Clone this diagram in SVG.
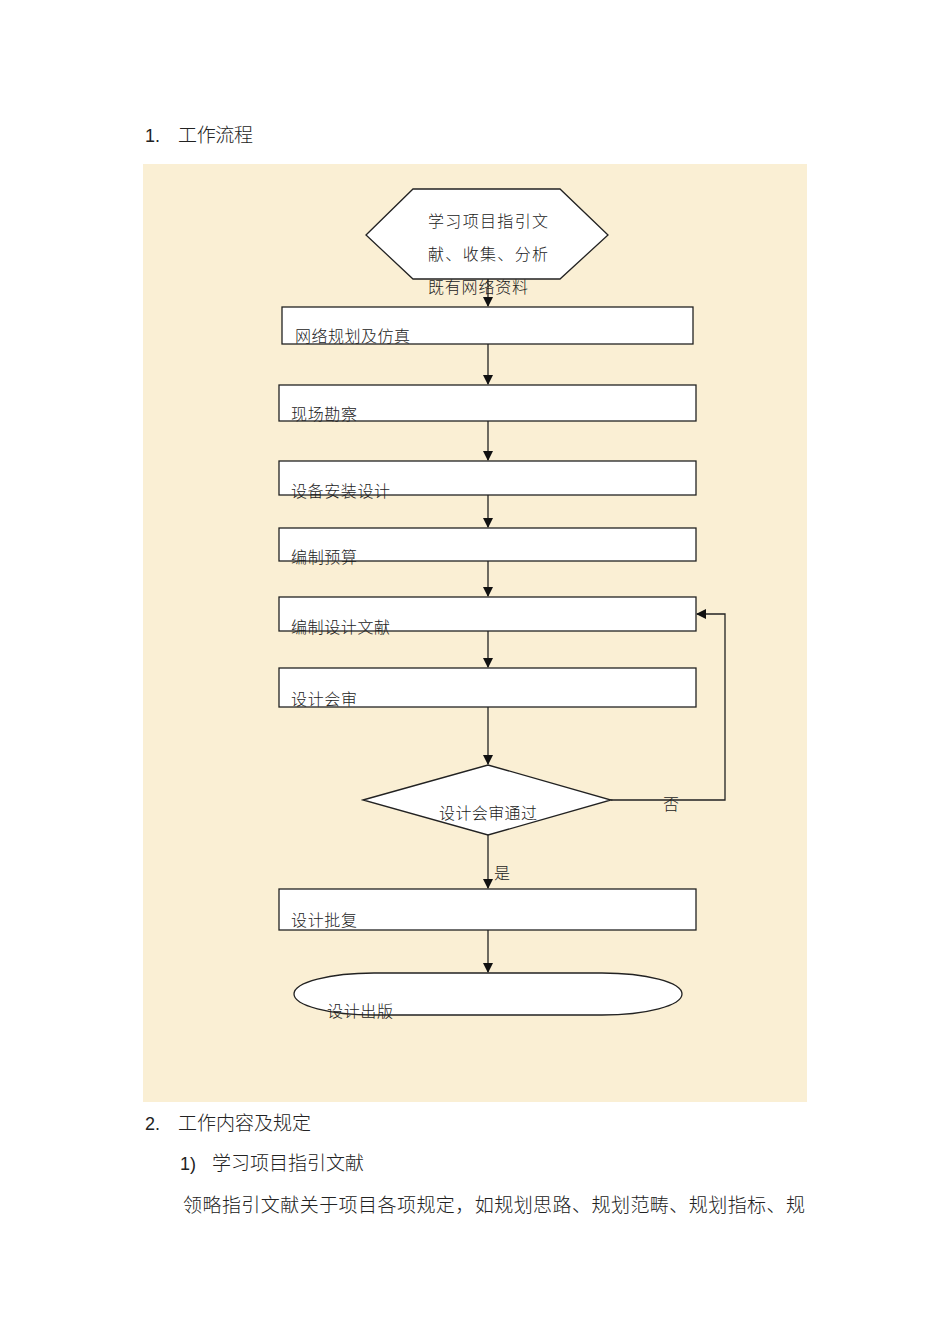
<svg xmlns="http://www.w3.org/2000/svg" width="950" height="1344" viewBox="0 0 950 1344">
<style>
.doc{font-family:"Liberation Sans","Noto Sans CJK SC",sans-serif;fill:#222;font-weight:300}
.t{font-family:"Noto Sans CJK SC",sans-serif;font-size:16px;fill:#222;font-weight:300}
.box{fill:#fff;stroke:#222;stroke-width:1.3}
.ln{fill:none;stroke:#222;stroke-width:1.3}
</style>
<defs>
<marker id="ah" markerWidth="10" markerHeight="10" refX="9" refY="5" orient="auto" markerUnits="userSpaceOnUse">
<path d="M0,0 L10,5 L0,10 Z" fill="#111"/>
</marker>
</defs>
<rect width="950" height="1344" fill="#fff"/>
<text class="doc" x="145" y="142" font-size="18" font-weight="400">1.</text>
<text class="doc" x="178" y="142" font-size="19" textLength="75">工作流程</text>
<rect x="143" y="164" width="664" height="938" fill="#faefd4"/>
<g id="connectors">
<line class="ln" x1="488" y1="279" x2="488" y2="306" marker-end="url(#ah)"/>
<line class="ln" x1="488" y1="344" x2="488" y2="384" marker-end="url(#ah)"/>
<line class="ln" x1="488" y1="421" x2="488" y2="460" marker-end="url(#ah)"/>
<line class="ln" x1="488" y1="495" x2="488" y2="527" marker-end="url(#ah)"/>
<line class="ln" x1="488" y1="561" x2="488" y2="596" marker-end="url(#ah)"/>
<line class="ln" x1="488" y1="631" x2="488" y2="667" marker-end="url(#ah)"/>
<line class="ln" x1="488" y1="707" x2="488" y2="764" marker-end="url(#ah)"/>
<polyline class="ln" points="611,800 725,800 725,614 697,614" marker-end="url(#ah)"/>
<line class="ln" x1="488" y1="835" x2="488" y2="888" marker-end="url(#ah)"/>
<line class="ln" x1="488" y1="930" x2="488" y2="972" marker-end="url(#ah)"/>
<text class="t" x="663" y="810">否</text>
<text class="t" x="494" y="879">是</text>
</g>
<g id="n0">
<polygon class="box" points="366,235 413,189 560,189 608,235 560,279 413,279"/>
<text class="t" x="428" y="227" font-size="17" textLength="120">学习项目指引文</text>
<text class="t" x="428" y="260" font-size="17" textLength="120">献、收集、分析</text>
<text class="t" x="428" y="293" font-size="17" textLength="100">既有网络资料</text>
</g>
<g id="n1"><rect class="box" x="282" y="307" width="411" height="37"/><text class="t" x="295" y="342" textLength="115">网络规划及仿真</text></g>
<g id="n2"><rect class="box" x="279" y="385" width="417" height="36"/><text class="t" x="291" y="420" textLength="66">现场勘察</text></g>
<g id="n3"><rect class="box" x="279" y="461" width="417" height="34"/><text class="t" x="291" y="497" textLength="99">设备安装设计</text></g>
<g id="n4"><rect class="box" x="279" y="528" width="417" height="33"/><text class="t" x="291" y="563" textLength="66">编制预算</text></g>
<g id="n5"><rect class="box" x="279" y="597" width="417" height="34"/><text class="t" x="291" y="633" textLength="99">编制设计文献</text></g>
<g id="n6"><rect class="box" x="279" y="668" width="417" height="39"/><text class="t" x="291" y="705" textLength="66">设计会审</text></g>
<g id="n7"><polygon class="box" points="363,800 488,765 611,800 488,835"/><text class="t" x="439" y="819" textLength="98">设计会审通过</text></g>
<g id="n8"><rect class="box" x="279" y="889" width="417" height="41"/><text class="t" x="291" y="926" textLength="66">设计批复</text></g>
<g id="n9"><rect class="box" x="294" y="973" width="388" height="42" rx="80" ry="21"/><text class="t" x="327" y="1017" textLength="66">设计出版</text></g>
<text class="doc" x="145" y="1130" font-size="18" font-weight="400">2.</text>
<text class="doc" x="178" y="1130" font-size="19" textLength="133">工作内容及规定</text>
<text class="doc" x="180" y="1170" font-size="18" font-weight="400">1)</text>
<text class="doc" x="212" y="1170" font-size="19" textLength="152">学习项目指引文献</text>
<text class="doc" x="183" y="1212" font-size="19" textLength="622">领略指引文献关于项目各项规定，如规划思路、规划范畴、规划指标、规</text>
</svg>
